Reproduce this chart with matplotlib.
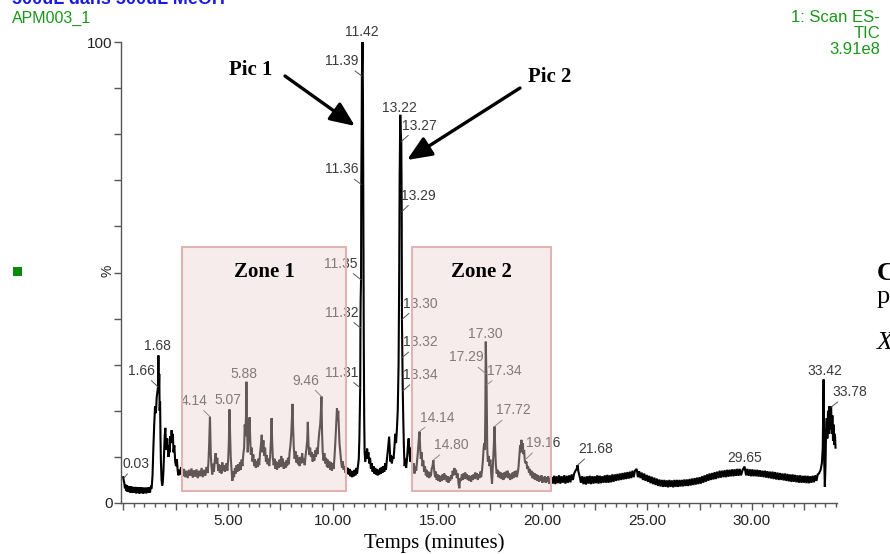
import matplotlib
matplotlib.use("Agg")
import matplotlib.pyplot as plt
from matplotlib.patches import Rectangle
from matplotlib.ticker import MultipleLocator, FuncFormatter

# ---------------- data (retention time in minutes, relative intensity in %) ----------------
trace_start = [
    (0.00, 5.6), (0.02, 5.0), (0.05, 4.4), (0.08, 3.2), (0.11, 4.0), (0.14, 2.6), (0.17, 3.8), (0.20, 2.5),
    (0.23, 3.7), (0.26, 2.4), (0.29, 3.6), (0.32, 2.3), (0.35, 3.6), (0.38, 2.3), (0.41, 3.5), (0.44, 2.2),
    (0.47, 3.5), (0.50, 2.2), (0.53, 3.4), (0.56, 2.2), (0.59, 3.5), (0.62, 2.1), (0.65, 3.4), (0.68, 2.2),
    (0.71, 3.4), (0.74, 2.1), (0.77, 3.3), (0.80, 2.1), (0.83, 3.4), (0.86, 2.2), (0.89, 3.3), (0.92, 2.1),
    (0.95, 3.3), (0.98, 2.1), (1.01, 3.3), (1.04, 2.2), (1.07, 3.3), (1.10, 2.1), (1.13, 3.3), (1.16, 2.2),
    (1.19, 3.3), (1.22, 2.2), (1.25, 3.4), (1.28, 2.3), (1.32, 3.5), (1.36, 3.4), (1.40, 6.0), (1.44, 12.0),
    (1.48, 17.0), (1.52, 21.0),
    (1.56, 19.5), (1.60, 23.0), (1.63, 24.0), (1.66, 25.2), (1.68, 32.0), (1.70, 24.0), (1.72, 28.0), (1.74, 20.0),
    (1.76, 22.0), (1.78, 14.0), (1.80, 9.0), (1.83, 5.0), (1.86, 3.8), (1.89, 4.5), (1.92, 7.0), (1.95, 11.0),
    (1.98, 14.5), (2.01, 16.3), (2.04, 13.0), (2.07, 11.5), (2.10, 14.0), (2.13, 12.0), (2.16, 10.0), (2.19, 12.5),
    (2.22, 11.0), (2.25, 14.5), (2.28, 13.0), (2.31, 15.8), (2.34, 13.5), (2.37, 15.0), (2.40, 11.0), (2.44, 12.5),
    (2.48, 9.0), (2.52, 8.0), (2.56, 9.5), (2.60, 7.0), (2.64, 6.0), (2.68, 7.2), (2.72, 6.2), (2.76, 7.8),
    (2.80, 6.5),
]

trace_zone1 = [
    (2.84, 5.8), (2.90, 7.4), (2.96, 5.6), (3.02, 7.0), (3.08, 5.4), (3.14, 7.2), (3.20, 5.9), (3.26, 7.5),
    (3.32, 5.5), (3.38, 7.1), (3.44, 5.7), (3.50, 7.3), (3.56, 5.4), (3.62, 7.0), (3.68, 5.8), (3.74, 7.6),
    (3.80, 5.6), (3.86, 7.2), (3.92, 5.9), (3.98, 7.8), (4.03, 6.5), (4.07, 9.0), (4.10, 12.5), (4.12, 16.0),
    (4.14, 18.7), (4.16, 14.0), (4.18, 10.5), (4.21, 8.0), (4.25, 6.2), (4.29, 8.5), (4.33, 6.8), (4.37, 9.2),
    (4.41, 10.8), (4.45, 8.6), (4.49, 9.8), (4.53, 7.0), (4.57, 8.4), (4.61, 6.6), (4.65, 8.2), (4.69, 6.4),
    (4.73, 8.8), (4.77, 7.0), (4.81, 8.2), (4.85, 6.8), (4.89, 7.4), (4.93, 8.6), (4.97, 7.0), (5.01, 9.5),
    (5.04, 13.0), (5.07, 20.3), (5.10, 15.0), (5.13, 10.0), (5.17, 7.2), (5.21, 4.8), (5.25, 6.8), (5.29, 5.6),
    (5.33, 7.6), (5.37, 6.4), (5.41, 8.2), (5.45, 6.8), (5.49, 8.4), (5.53, 7.0), (5.57, 8.8), (5.61, 7.2),
    (5.65, 9.4), (5.69, 8.0), (5.73, 10.5), (5.77, 12.0), (5.80, 17.0), (5.83, 14.5), (5.86, 19.0), (5.88, 26.3),
    (5.91, 16.0), (5.94, 11.0), (5.97, 13.5), (6.00, 15.5), (6.03, 18.6), (6.06, 14.0), (6.09, 10.5), (6.13, 12.0),
    (6.17, 9.0), (6.21, 10.5), (6.25, 8.0), (6.29, 9.5), (6.33, 7.6), (6.37, 9.0), (6.41, 7.8), (6.45, 9.6),
    (6.49, 8.2), (6.53, 10.8), (6.57, 12.5), (6.61, 14.8), (6.65, 11.0), (6.69, 13.6), (6.73, 10.2), (6.77, 12.0),
    (6.81, 9.0), (6.85, 10.4), (6.89, 8.4), (6.93, 9.6), (6.97, 8.0), (7.01, 10.0), (7.05, 13.5), (7.08, 18.4),
    (7.11, 13.0), (7.14, 9.8), (7.18, 8.2), (7.22, 9.6), (7.26, 7.4), (7.30, 9.0), (7.34, 7.2), (7.38, 8.8),
    (7.42, 7.6), (7.46, 9.4), (7.50, 7.8), (7.54, 10.2), (7.58, 8.0), (7.62, 9.6), (7.66, 7.4), (7.70, 8.8),
    (7.74, 7.6), (7.78, 9.2), (7.82, 8.0), (7.86, 9.8), (7.90, 8.4), (7.94, 11.0), (7.98, 12.5), (8.02, 15.0),
    (8.05, 18.0), (8.08, 21.5), (8.11, 16.0), (8.14, 12.0), (8.18, 9.6), (8.22, 11.2), (8.26, 8.8), (8.30, 10.4),
    (8.34, 8.4), (8.38, 9.8), (8.42, 8.0), (8.46, 10.0), (8.50, 8.6), (8.54, 10.8), (8.58, 8.8), (8.62, 9.6),
    (8.66, 8.2), (8.70, 10.2), (8.74, 11.6), (8.78, 13.5), (8.81, 17.6), (8.84, 12.8), (8.88, 10.4), (8.92, 12.0),
    (8.96, 10.0), (9.00, 11.0), (9.04, 9.0), (9.08, 10.6), (9.12, 9.2), (9.16, 11.4), (9.20, 10.0), (9.24, 12.0),
    (9.28, 10.6), (9.32, 13.5), (9.36, 15.5), (9.40, 17.0), (9.43, 19.5), (9.46, 23.1), (9.49, 15.0), (9.52, 11.0),
    (9.56, 9.2), (9.60, 10.8), (9.64, 8.6), (9.68, 9.8), (9.72, 7.8), (9.76, 9.4), (9.80, 7.6), (9.84, 9.0),
    (9.88, 7.2), (9.92, 8.8), (9.96, 7.0), (10.00, 8.6), (10.04, 7.4), (10.08, 9.8), (10.12, 13.0), (10.16, 17.0),
    (10.20, 20.5), (10.23, 18.0), (10.26, 20.0), (10.29, 16.5), (10.32, 13.0), (10.36, 11.0), (10.40, 9.0),
    (10.44, 7.6), (10.48, 9.0), (10.52, 7.2), (10.56, 8.0), (10.60, 6.6), (10.64, 7.8), (10.68, 6.4), (10.72, 7.6),
]

trace_pics = [
    (10.76, 6.2), (10.80, 7.4), (10.84, 5.8), (10.88, 7.0), (10.92, 5.6), (10.96, 6.8), (11.00, 5.8), (11.04, 7.2),
    (11.08, 6.0), (11.12, 7.6), (11.16, 6.4), (11.20, 8.0), (11.24, 9.5), (11.27, 14.0), (11.29, 19.0), (11.31, 25.0),
    (11.32, 38.0), (11.33, 44.0), (11.35, 48.4), (11.36, 69.1), (11.38, 82.0), (11.39, 92.6), (11.42, 100.0),
    (11.44, 88.0), (11.46, 60.0), (11.48, 35.0), (11.50, 18.0), (11.52, 11.0), (11.55, 9.0), (11.58, 11.2),
    (11.61, 9.6), (11.64, 11.8), (11.67, 10.0), (11.70, 11.0), (11.74, 8.6), (11.78, 9.8), (11.82, 7.4), (11.86, 8.6),
    (11.90, 6.8), (11.94, 8.0), (11.98, 6.4), (12.02, 7.6), (12.06, 6.2), (12.10, 7.4), (12.14, 6.0), (12.18, 7.2),
    (12.22, 6.2), (12.26, 7.6), (12.30, 6.4), (12.34, 7.8), (12.38, 6.6), (12.42, 8.0), (12.46, 6.8), (12.50, 8.6),
    (12.54, 7.2), (12.58, 9.4), (12.62, 11.0), (12.66, 13.0), (12.69, 14.4), (12.72, 11.5), (12.75, 9.0),
    (12.78, 10.4), (12.82, 8.6), (12.86, 10.0), (12.90, 9.6), (12.94, 12.0), (12.98, 15.0), (13.02, 13.0),
    (13.06, 16.0), (13.10, 20.0), (13.14, 30.0), (13.17, 50.0), (13.19, 70.0), (13.22, 84.2), (13.24, 80.5),
    (13.27, 78.4), (13.29, 63.2), (13.30, 39.8), (13.32, 31.6), (13.34, 24.3), (13.37, 17.0), (13.40, 11.0),
    (13.43, 8.0), (13.46, 9.6), (13.50, 7.6), (13.54, 9.4), (13.58, 12.0), (13.62, 14.0), (13.66, 11.0),
    (13.70, 9.0), (13.74, 12.0), (13.78, 8.6),
]

trace_zone2 = [
    (13.82, 7.0), (13.86, 8.6), (13.90, 6.4), (13.94, 8.0), (13.98, 7.0), (14.02, 9.0), (14.06, 11.0), (14.10, 13.5),
    (14.14, 15.5), (14.17, 12.0), (14.20, 9.6), (14.24, 11.0), (14.28, 8.0), (14.32, 9.2), (14.36, 6.8), (14.40, 8.0),
    (14.44, 6.0), (14.48, 7.2), (14.52, 5.6), (14.56, 6.8), (14.60, 5.4), (14.64, 6.6), (14.68, 5.8), (14.72, 7.4),
    (14.76, 8.0), (14.80, 9.3), (14.84, 7.0), (14.88, 5.6), (14.92, 6.8), (14.96, 5.0), (15.00, 6.2), (15.04, 4.8),
    (15.08, 6.0), (15.12, 4.6), (15.16, 5.8), (15.20, 4.8), (15.24, 6.2), (15.28, 5.0), (15.32, 6.4), (15.36, 5.2),
    (15.40, 6.0), (15.44, 4.6), (15.48, 5.8), (15.52, 4.4), (15.56, 5.6), (15.60, 4.8), (15.64, 6.0), (15.68, 5.2),
    (15.72, 7.0), (15.76, 6.0), (15.80, 7.6), (15.84, 6.2), (15.88, 7.2), (15.92, 5.4), (15.96, 6.4), (16.00, 4.2),
    (16.04, 3.2), (16.08, 5.4), (16.12, 4.8), (16.16, 6.2), (16.20, 5.0), (16.24, 6.4), (16.28, 5.2), (16.32, 6.6),
    (16.36, 5.4), (16.40, 6.2), (16.44, 5.0), (16.48, 6.0), (16.52, 4.8), (16.56, 5.8), (16.60, 4.6), (16.64, 6.0),
    (16.68, 5.0), (16.72, 6.2), (16.76, 5.2), (16.80, 6.6), (16.84, 5.4), (16.88, 6.4), (16.92, 5.0), (16.96, 6.2),
    (17.00, 5.4), (17.04, 6.8), (17.08, 5.6), (17.12, 7.0), (17.16, 9.0), (17.20, 12.0), (17.23, 13.0),
    (17.26, 11.5), (17.28, 20.0), (17.29, 28.1), (17.30, 35.0), (17.32, 30.0), (17.34, 25.6), (17.37, 12.0),
    (17.40, 9.0), (17.44, 10.2), (17.48, 8.0), (17.52, 9.4), (17.56, 6.4), (17.60, 4.2), (17.64, 8.0),
    (17.68, 12.0), (17.72, 16.6), (17.75, 12.0), (17.78, 8.4), (17.82, 6.4), (17.86, 7.2), (17.90, 5.6),
    (17.94, 6.8), (17.98, 5.4), (18.02, 6.6), (18.06, 5.2), (18.10, 6.4), (18.14, 5.0), (18.18, 6.6), (18.22, 5.4),
    (18.26, 6.8), (18.30, 5.6), (18.34, 7.0), (18.38, 5.4), (18.42, 6.4), (18.46, 5.0), (18.50, 6.2), (18.54, 5.2),
    (18.58, 6.6), (18.62, 5.4), (18.66, 6.8), (18.70, 5.8), (18.74, 7.0), (18.78, 5.6), (18.82, 6.4), (18.86, 7.6),
    (18.90, 10.0), (18.94, 12.5), (18.97, 11.0), (19.00, 13.7), (19.03, 12.0), (19.06, 13.0), (19.10, 10.6),
    (19.13, 11.5), (19.16, 9.3), (19.20, 8.6), (19.24, 9.0), (19.28, 7.4), (19.32, 8.0), (19.36, 6.6), (19.40, 7.4),
    (19.44, 6.0), (19.48, 7.0), (19.52, 5.4), (19.56, 6.6), (19.60, 5.2), (19.64, 6.4), (19.68, 5.0), (19.72, 6.2),
    (19.76, 4.8), (19.80, 6.0), (19.84, 4.6), (19.88, 5.8), (19.92, 4.8), (19.96, 6.0), (20.00, 4.4), (20.04, 5.6),
    (20.08, 4.6), (20.12, 5.8), (20.16, 4.4), (20.20, 5.6), (20.24, 4.6), (20.28, 5.8), (20.32, 4.2), (20.36, 5.4),
    (20.40, 4.4), (20.44, 5.6),
]

trace_end = [
    (20.50, 4.2), (20.56, 5.9), (20.62, 4.1), (20.68, 5.8), (20.74, 4.3), (20.80, 6.0), (20.86, 4.2), (20.92, 5.8),
    (20.98, 4.4), (21.04, 6.0), (21.10, 4.2), (21.16, 5.9), (21.22, 4.4), (21.28, 6.0), (21.34, 4.5), (21.40, 6.2),
    (21.46, 5.0), (21.52, 6.4), (21.58, 7.0), (21.64, 7.4), (21.68, 8.2), (21.72, 6.8), (21.78, 5.8), (21.84, 4.4),
    (21.90, 5.8), (21.96, 4.1), (22.02, 5.7), (22.08, 4.0), (22.14, 5.8), (22.20, 4.2), (22.26, 5.9), (22.32, 4.1),
    (22.38, 5.8), (22.44, 4.2), (22.50, 5.8), (22.56, 4.3), (22.62, 6.0), (22.68, 4.2), (22.74, 5.9), (22.80, 4.3),
    (22.86, 5.8), (22.92, 4.4), (22.98, 6.0), (23.04, 4.4), (23.10, 6.1), (23.16, 4.4), (23.22, 6.0), (23.28, 4.5),
    (23.34, 6.2), (23.40, 4.6), (23.46, 6.2), (23.52, 4.8), (23.58, 6.3), (23.64, 4.9), (23.70, 6.4), (23.76, 5.0),
    (23.82, 6.5), (23.88, 5.1), (23.94, 6.6), (24.00, 5.2), (24.06, 6.7), (24.12, 5.3), (24.18, 6.8), (24.24, 5.4),
    (24.30, 7.0), (24.36, 5.6), (24.42, 7.0), (24.50, 7.4), (24.56, 5.6), (24.62, 6.9), (24.68, 5.4), (24.74, 6.6),
    (24.80, 5.0), (24.86, 6.4), (24.92, 4.8), (24.98, 6.1), (25.04, 4.6), (25.10, 5.9), (25.16, 4.3), (25.22, 5.7),
    (25.28, 4.1), (25.34, 5.5), (25.40, 3.9), (25.46, 5.3), (25.52, 3.7), (25.58, 5.1), (25.64, 3.6), (25.70, 5.0),
    (25.76, 3.5), (25.82, 5.0), (25.88, 3.5), (25.94, 4.9), (26.00, 3.4), (26.06, 5.0), (26.12, 3.5), (26.18, 4.9),
    (26.24, 3.4), (26.30, 5.0), (26.36, 3.5), (26.42, 5.0), (26.48, 3.5), (26.54, 5.0), (26.60, 3.6), (26.66, 5.0),
    (26.72, 3.6), (26.78, 5.1), (26.84, 3.7), (26.90, 5.1), (26.96, 3.7), (27.02, 5.2), (27.08, 3.8), (27.14, 5.3),
    (27.20, 3.9), (27.26, 5.4), (27.32, 4.0), (27.38, 5.5), (27.44, 4.1), (27.50, 5.6), (27.56, 4.2), (27.62, 5.8),
    (27.68, 4.4), (27.74, 6.0), (27.80, 4.6), (27.86, 6.2), (27.92, 4.8), (27.98, 6.4), (28.04, 5.0), (28.10, 6.5),
    (28.16, 5.1), (28.22, 6.7), (28.28, 5.2), (28.34, 6.8), (28.40, 5.4), (28.46, 7.0), (28.52, 5.5), (28.58, 7.0),
    (28.64, 5.6), (28.70, 7.1), (28.76, 5.6), (28.82, 7.2), (28.88, 5.7), (28.94, 7.2), (29.00, 5.8), (29.06, 7.3),
    (29.12, 5.8), (29.18, 7.3), (29.24, 5.9), (29.30, 7.4), (29.36, 5.9), (29.42, 7.4), (29.48, 6.0), (29.56, 7.2),
    (29.65, 7.9), (29.72, 6.0), (29.78, 7.4), (29.84, 5.9), (29.90, 7.3), (29.96, 5.8), (30.02, 7.3), (30.08, 5.8),
    (30.14, 7.2), (30.20, 5.8), (30.26, 7.2), (30.32, 5.7), (30.38, 7.1), (30.44, 5.7), (30.50, 7.0), (30.56, 5.6),
    (30.62, 7.0), (30.68, 5.5), (30.74, 6.9), (30.80, 5.4), (30.86, 6.8), (30.92, 5.3), (30.98, 6.8), (31.04, 5.2),
    (31.10, 6.7), (31.16, 5.1), (31.22, 6.6), (31.28, 5.0), (31.34, 6.5), (31.40, 5.0), (31.46, 6.4), (31.52, 4.9),
    (31.58, 6.4), (31.64, 4.8), (31.70, 6.3), (31.76, 4.7), (31.82, 6.2), (31.88, 4.6), (31.94, 6.2), (32.00, 4.6),
    (32.06, 6.1), (32.12, 4.5), (32.18, 6.0), (32.24, 4.4), (32.30, 6.0), (32.36, 4.4), (32.42, 5.9), (32.48, 4.4),
    (32.54, 5.9), (32.60, 4.3), (32.66, 5.9), (32.72, 4.3), (32.78, 5.8), (32.84, 4.4), (32.90, 5.9), (32.96, 4.5),
    (33.02, 6.0), (33.08, 4.8), (33.14, 6.2), (33.20, 6.4), (33.28, 7.2), (33.34, 8.7), (33.38, 12.0), (33.42, 26.8),
    (33.45, 9.0), (33.48, 3.5), (33.51, 8.0), (33.54, 16.0), (33.57, 18.4), (33.60, 14.0), (33.63, 20.0),
    (33.66, 15.0), (33.69, 21.0), (33.72, 16.0), (33.75, 20.0), (33.78, 21.0), (33.81, 15.0), (33.84, 19.0),
    (33.87, 13.5), (33.90, 17.0), (33.93, 12.6), (33.96, 15.0), (33.99, 12.0),
]

# peak annotations: retention time label and intensity where the label points
peak_labels = ["0.03", "1.66", "1.68", "4.14", "5.07", "5.88", "9.46", "11.31", "11.32", "11.35",
               "11.36", "11.39", "11.42", "13.22", "13.27", "13.29", "13.30", "13.32", "13.34",
               "14.14", "14.80", "17.29", "17.30", "17.34", "17.72", "19.16", "21.68", "29.65",
               "33.42", "33.78"]
peak_heights = [5.4, 25.2, 32.0, 18.7, 20.3, 26.3, 23.1, 25.0, 38.0, 48.4,
                69.1, 92.6, 100.0, 84.2, 78.4, 63.2, 39.8, 31.6, 24.3,
                15.5, 9.3, 28.1, 35.0, 25.6, 16.6, 9.3, 8.2, 7.9,
                26.8, 20.8]

zone_names = ["Zone 1", "Zone 2"]
zone_start = [2.81, 13.77]
zone_end = [10.64, 20.42]

x_tick_labels = ["5.00", "10.00", "15.00", "20.00", "25.00", "30.00"]
y_tick_labels = ["0", "100"]

# ---------------- layout (pixel offsets of label centres from the pointed peak) ----------------
label_offsets = [(12, 14, True), (-17, 16, True), (-1, 9, False), (-16, 16, True), (-2, 9, False),
                 (-2, 8, False), (-16, 16, True), (-19, 15, True), (-19, 15, True), (-20, 16, True),
                 (-20, 15, True), (-20, 15, True), (-1, 10, False), (-1, 7, False), (18, 16, True),
                 (17, 16, True), (18, 16, True), (18, 15, True), (18, 16, True),
                 (18, 14, True), (18, 15, True), (-19, 16, True), (0, 8, False), (18, 14, True),
                 (19, 16, True), (18, 17, True), (18, 16, True), (0, 9, False),
                 (1, 8, False), (19, 15, True)]

W, H = 890, 554
SANS = ["Liberation Sans", "DejaVu Sans"]
SERIF = ["Liberation Serif", "DejaVu Serif"]
GREEN = "#1b961b"
AXC = "#555555"
LBL = "#3a3a3a"

fig = plt.figure(figsize=(W / 100, H / 100), dpi=100)
ax = fig.add_axes([121 / W, 1 - 503 / H, (837 - 121) / W, (503 - 42) / H])


def fpx(x, y):
    return (x / W, 1 - y / H)


segments = [trace_start, trace_zone1, trace_pics, trace_zone2, trace_end]
t_all = [p[0] for seg in segments for p in seg]
y_all = [p[1] for seg in segments for p in seg]
ax.plot(t_all, y_all, color="black", lw=1.5, zorder=2, solid_joinstyle="miter")

# peak labels
for lab, h, (dx, dy, lead) in zip(peak_labels, peak_heights, label_offsets):
    kw = {}
    if lead:
        kw["arrowprops"] = dict(arrowstyle="-", color="#555555", lw=0.7, shrinkA=0, shrinkB=0)
    ax.annotate(lab, xy=(float(lab), h), xytext=(dx, dy), textcoords="offset pixels",
                ha="center", va="center", fontsize=10, color=LBL, family=SANS, zorder=3,
                annotation_clip=False, **kw)

# zones (translucent overlay)
for name, x0, x1 in zip(zone_names, zone_start, zone_end):
    ax.add_patch(Rectangle((x0, 2.6), x1 - x0, 52.9, facecolor="#ecd2d2", alpha=0.42,
                           edgecolor="none", zorder=4))
    ax.add_patch(Rectangle((x0, 2.6), x1 - x0, 52.9, fill=False, edgecolor="#e3b3b3",
                           lw=1.5, zorder=4.5))
    ax.text((x0 + x1) / 2, 50.2, name, ha="center", va="center", fontsize=15,
            fontweight="bold", family=SERIF, color="black", zorder=6)

# axes styling
ax.set_xlim(-0.105, 34.06)
ax.set_ylim(0, 100)
for s in ["top", "right"]:
    ax.spines[s].set_visible(False)
for s in ["left", "bottom"]:
    ax.spines[s].set_color(AXC)
    ax.spines[s].set_linewidth(1.0)

ax.xaxis.set_major_locator(MultipleLocator(2.5))
ax.xaxis.set_minor_locator(MultipleLocator(0.5))
lab_map = {5.0 * (i + 1): s for i, s in enumerate(x_tick_labels)}
ax.xaxis.set_major_formatter(FuncFormatter(lambda v, p: lab_map.get(round(v, 2), "")))
ax.tick_params(axis="x", which="major", length=4.8, width=1, color=AXC, pad=3,
               labelsize=11, labelcolor="#222222")
ax.tick_params(axis="x", which="minor", length=2.6, width=1, color=AXC)
for lbl in ax.get_xticklabels():
    lbl.set_family(SANS)

yt = list(range(0, 101, 10))
ax.set_yticks(yt)
ax.set_yticklabels([y_tick_labels[0]] + [""] * 9 + [y_tick_labels[1]], family=SANS)
ax.tick_params(axis="y", length=5, width=1, color=AXC, pad=1, labelsize=11, labelcolor="#222222")
fig.text(*fpx(108, 271), "%", rotation=90, ha="center", va="center", fontsize=10,
         family=SANS, color="#222222")

fig.text(*fpx(434, 543), "Temps (minutes)", ha="center", va="center", fontsize=15,
         family=SERIF, color="black")

# Pic arrows
arrow_kw = dict(arrowstyle="-|>,head_length=0.75,head_width=0.32", color="black", lw=2.4,
                shrinkA=0, shrinkB=0, mutation_scale=20)
fig.text(*fpx(251, 70), "Pic 1", ha="center", va="center", fontsize=15, fontweight="bold",
         family=SERIF)
fig.text(*fpx(550, 77), "Pic 2", ha="center", va="center", fontsize=15, fontweight="bold",
         family=SERIF)
ax.annotate("", xy=fpx(355, 126), xycoords="figure fraction", xytext=fpx(285, 76),
            textcoords="figure fraction", arrowprops=arrow_kw, zorder=7)
ax.annotate("", xy=fpx(407, 160), xycoords="figure fraction", xytext=fpx(520, 88),
            textcoords="figure fraction", arrowprops=arrow_kw, zorder=7)

# header texts (the top line is clipped by the page edge, as in the original)
fig.text(*fpx(12, 4), "500uL dans 500uL MeOH", ha="left", va="baseline", fontsize=13,
         fontweight="bold", family=SANS, color="#1a1ae6")
fig.text(*fpx(12, 18), "APM003_1", ha="left", va="center", fontsize=11.5, family=SANS, color=GREEN)
fig.text(*fpx(880, 18), "1: Scan ES-", ha="right", va="center", fontsize=12, family=SANS, color=GREEN)
fig.text(*fpx(880, 33), "TIC", ha="right", va="center", fontsize=12, family=SANS, color=GREEN)
fig.text(*fpx(880, 49), "3.91e8", ha="right", va="center", fontsize=12, family=SANS, color=GREEN)

# green marker square
fig.patches.append(Rectangle(fpx(12.5, 276), 9.5 / W, 9 / H, transform=fig.transFigure,
                             facecolor="#0a8a0a", edgecolor="none"))

# cut-off text from the neighbouring page (clipped at the right edge, as in the original)
fig.text(*fpx(877, 280), "C", ha="left", va="baseline", fontsize=19, fontweight="bold", family=SERIF)
fig.text(*fpx(877, 303), "p", ha="left", va="baseline", fontsize=19, family=SERIF)
fig.text(*fpx(877, 349), "X", ha="left", va="baseline", fontsize=19, style="italic", family=SERIF)

fig.savefig("out.png", dpi=100)
